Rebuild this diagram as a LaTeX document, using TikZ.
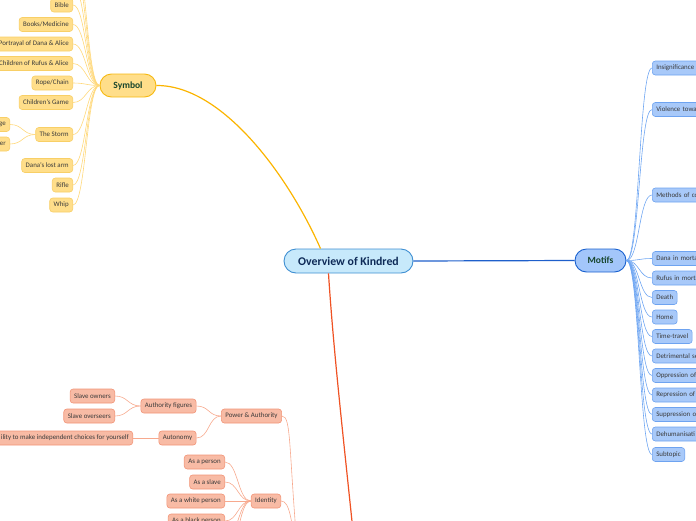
\documentclass[tikz,border=0pt]{standalone}
\usepackage{fontspec}
\setmainfont{Carlito}
\definecolor{ovf}{HTML}{C7E9FB}
\definecolor{ovb}{HTML}{3F8FD2}
\definecolor{navy}{HTML}{0E2A57}
\definecolor{dgreen}{HTML}{17452C}
\definecolor{txt}{HTML}{3A3A3A}
\definecolor{mof}{HTML}{A3C6FA}
\definecolor{mob}{HTML}{1B62CF}
\definecolor{mcf}{HTML}{A8C9F9}
\definecolor{mcb}{HTML}{6EA3F0}
\definecolor{mcl}{HTML}{6FA6F2}
\definecolor{syf}{HTML}{FFDE8A}
\definecolor{syb}{HTML}{F6B912}
\definecolor{syl}{HTML}{FBB400}
\definecolor{scb}{HTML}{F8CF66}
\definecolor{scl}{HTML}{FFD87A}
\definecolor{redl}{HTML}{EF5223}
\definecolor{saf}{HTML}{F8BBA5}
\definecolor{sab}{HTML}{F29477}
\definecolor{sal}{HTML}{F7A98E}
\definecolor{bluel}{HTML}{1E5FCB}
\begin{document}
\begin{tikzpicture}[x=1pt,y=-1pt,
  every node/.style={font=\fontsize{6.9}{8}\selectfont, text=txt},
  sm/.style={draw, rounded corners=3pt, minimum height=14pt, inner xsep=4pt, inner ysep=0pt, line width=0.6pt},
  symc/.style={sm, fill=syf, draw=scb},
  motc/.style={sm, fill=mcf, draw=mcb, anchor=west},
  motcut/.style={motc, text width=62pt, align=left},
  salc/.style={sm, fill=saf, draw=sab},
  bigbox/.style={draw, line width=0.9pt, font=\bfseries\fontsize{9.5}{11}\selectfont, text=dgreen, minimum height=23pt, rounded corners=11.5pt},
  symlink/.style={draw=scl, line width=0.6pt},
  motlink/.style={draw=mcl, line width=0.6pt},
  sallink/.style={draw=sal, line width=0.6pt}
]
\useasboundingbox (0,0) rectangle (696,520);
\clip (0,0) rectangle (696,520);

% central
\node[draw=ovb, fill=ovf, line width=0.9pt, rounded corners=12pt, minimum width=129pt, minimum height=24pt,
      font=\bfseries\fontsize{11.8}{13}\selectfont, text=navy] (ov) at (348.5,261) {Overview of Kindred};
\node[bigbox, fill=syf, draw=syb, minimum width=56pt] (sym) at (128,85.5) {Symbol};
\node[bigbox, fill=mof, draw=mob, minimum width=51pt] (mot) at (600.5,260.5) {Motifs};

\coordinate (theme) at (358,580);
\draw[bluel, line width=1.2pt] (ov.east) -- (mot.west);
\draw[syl, line width=1.2pt] (sym.east) .. controls (222,85) and (288,175) .. ([xshift=-28pt]ov.north);
\draw[redl, line width=1.2pt] ([xshift=-20pt]ov.south) .. controls (334,360) and (346,460) .. (theme);

% symbol children
\node[symc, anchor=east] (c1) at (73,5) {Bible};
\node[symc, anchor=east] (c2) at (73,24.5) {Books/Medicine};
\node[symc, anchor=east] (c3) at (73,44) {Portrayal of Dana \& Alice};
\node[symc, anchor=east] (c4) at (73,63.5) {Children of Rufus \& Alice};
\node[symc, anchor=east] (c5) at (73,83) {Rope/Chain};
\node[symc, anchor=east] (c6) at (73,102.5) {Children's Game};
\node[symc, anchor=east] (c7) at (73,134.5) {The Storm};
\node[symc, anchor=east] (c8) at (73,165.5) {Dana's lost arm};
\node[symc, anchor=east] (c9) at (73,185) {Rifle};
\node[symc, anchor=east] (c10) at (73,205) {Whip};
\node[symc, anchor=east, text width=34pt, align=right] (s1) at (10,124.5) {ge};
\node[symc, anchor=east, text width=34pt, align=right] (s2) at (10,144) {er};
\coordinate (h1) at (73,-14);
\coordinate (h2) at (73,-34);
\coordinate (h3) at (73,-54);
\foreach \c in {h1,h2,h3,c1,c2,c3,c4,c5,c6,c7,c8,c9,c10}
  \draw[symlink] (sym.west) .. controls +(-13,0) and +(13,0) .. (\c.east);
\foreach \c in {s1,s2}
  \draw[symlink] (c7.west) .. controls +(-13,0) and +(13,0) .. (\c.east);

% motifs children
\node[motcut] (m1) at (652,68) {Insignificance};
\node[motcut] (m2) at (652,109.5) {Violence towa};
\node[motcut] (m3) at (652,195) {Methods of co};
\node[motcut] (m4) at (652,258.5) {Dana in mortal};
\node[motcut] (m5) at (652,278) {Rufus in morta};
\node[motc] (m6) at (652,297.5) {Death};
\node[motc] (m7) at (652,317) {Home};
\node[motc] (m8) at (652,336.5) {Time-travel};
\node[motcut] (m9) at (652,356) {Detrimental se};
\node[motcut] (m10) at (652,375.5) {Oppression of};
\node[motcut] (m11) at (652,395) {Repression of};
\node[motcut] (m12) at (652,414.5) {Suppression o};
\node[motcut] (m13) at (652,434) {Dehumanisati};
\node[motc] (m14) at (652,454.5) {Subtopic};
\foreach \c in {m1,m2,m3,m4,m5,m6,m7,m8,m9,m10,m11,m12,m13,m14}
  \draw[motlink] (mot.east) .. controls +(13,0) and +(-13,0) .. (\c.west);

% power & authority group
\node[salc] (pa) at (251.5,416) {Power \& Authority};
\node[salc] (af) at (168.5,406) {Authority figures};
\node[salc, anchor=east] (so) at (115,396) {Slave owners};
\node[salc, anchor=east] (sov) at (115,416) {Slave overseers};
\node[salc] (au) at (177.5,438) {Autonomy};
\node[salc, anchor=east] (ab) at (133,438) {ility to make independent choices for yourself};
\node[salc] (id) at (266,501) {Identity};
\node[salc, anchor=east] (i1) at (225,462) {As a person};
\node[salc, anchor=east] (i2) at (225,482) {As a slave};
\node[salc, anchor=east] (i3) at (225,501) {As a white person};
\node[salc, anchor=east] (i4) at (225,521) {As a black person};
\coordinate (i5) at (225,540);
\coordinate (i6) at (225,560);
\coordinate (themew) at (300,580);

\foreach \c in {so,sov}
  \draw[sallink] (af.west) .. controls +(-13,0) and +(13,0) .. (\c.east);
\foreach \c in {af,au}
  \draw[sallink] (pa.west) .. controls +(-13,0) and +(13,0) .. (\c.east);
\draw[sallink] (au.west) -- (ab.east);
\foreach \c in {i1,i2,i3,i4,i5,i6}
  \draw[sallink] (id.west) .. controls +(-13,0) and +(13,0) .. (\c.east);
\draw[sallink] (pa.east) .. controls (292,416) and (288,450) .. (themew);
\draw[sallink] (id.east) .. controls (290,501) and (292,520) .. (themew);
\end{tikzpicture}
\end{document}
